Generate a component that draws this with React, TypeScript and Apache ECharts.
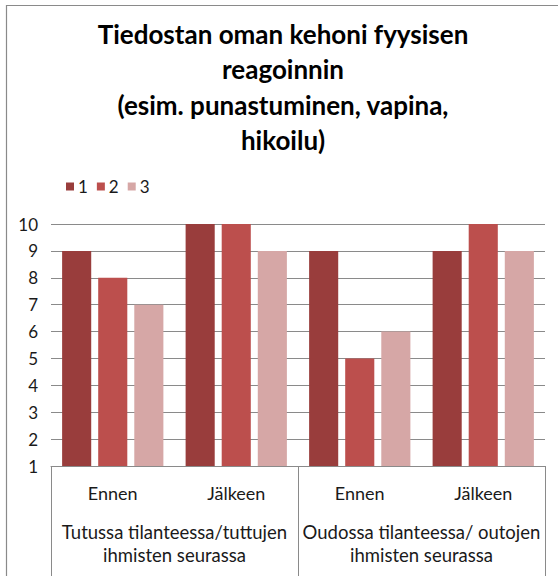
import React, { useEffect, useRef } from "react";
import * as echarts from "echarts";

const titleLines = [
  "Tiedostan oman kehoni fyysisen",
  "reagoinnin",
  "(esim. punastuminen, vapina,",
  "hikoilu)",
];
const innerCategories = ["Ennen", "Jälkeen", "Ennen", "Jälkeen"];
const outerCategories = [
  "Tutussa tilanteessa/tuttujen\nihmisten seurassa",
  "Oudossa tilanteessa/ outojen\nihmisten seurassa",
];
const seriesNames = ["1", "2", "3"];
const series1 = [9, 10, 9, 9];
const series2 = [8, 10, 5, 10];
const series3 = [7, 9, 6, 9];
const seriesColors = ["#993D3C", "#BC4F4D", "#D6A7A6"];

const FONT = "Lato, 'Liberation Sans', sans-serif";
const TEXT = "#1a1a1a";
const GRAY = "#8a8a8a";

export default function App() {
  const ref = useRef<HTMLDivElement>(null);
  useEffect(() => {
    if (!ref.current) return;
    const chart = echarts.init(ref.current, undefined, { renderer: "svg" });
    const values = [series1, series2, series3];
    chart.setOption({
      animation: false,
      textStyle: { fontFamily: FONT },
      graphic: [
        {
          type: "rect",
          shape: { x: 6.5, y: 5.5, width: 600, height: 620 },
          style: { fill: "none", stroke: GRAY, lineWidth: 1.2 },
          silent: true,
        },
        {
          type: "text",
          x: 283,
          y: 16,
          style: {
            text: titleLines.join("\n"),
            fontFamily: FONT,
            fontWeight: "bold",
            fontSize: 26,
            lineHeight: 35.5,
            fill: "#000",
            align: "center",
            verticalAlign: "top",
          },
        },
      ],
      legend: {
        left: 61,
        top: 173,
        itemWidth: 8,
        itemHeight: 8,
        itemGap: 9,
        icon: "rect",
        textStyle: { fontFamily: FONT, fontSize: 17, color: TEXT, padding: [0, 0, 0, -1] },
        data: seriesNames,
      },
      grid: { left: 51, right: 13, top: 224, bottom: 110, containLabel: false },
      xAxis: [
        {
          type: "category",
          data: innerCategories,
          position: "bottom",
          axisLine: { show: true, lineStyle: { color: GRAY, width: 1 } },
          axisTick: { show: false },
          axisLabel: { fontFamily: FONT, fontSize: 18, color: TEXT, margin: 18, interval: 0 },
        },
        {
          type: "category",
          data: outerCategories,
          position: "bottom",
          axisLine: { show: false },
          axisTick: { show: true, length: 120, lineStyle: { color: GRAY, width: 1 } },
          axisLabel: {
            fontFamily: FONT,
            fontSize: 18.5,
            lineHeight: 23.5,
            color: TEXT,
            margin: 54,
            interval: 0,
          },
        },
      ],
      yAxis: {
        type: "value",
        min: 1,
        max: 10,
        interval: 1,
        axisLine: { show: false },
        axisTick: { show: false },
        splitLine: { lineStyle: { color: GRAY, width: 1 } },
        axisLabel: { fontFamily: FONT, fontSize: 17, color: TEXT, margin: 13 },
      },
      series: seriesNames.map((name, i) => ({
        name,
        type: "bar",
        xAxisIndex: 0,
        data: values[i],
        barGap: "24%",
        barCategoryGap: "18%",
        itemStyle: { color: seriesColors[i] },
      })),
    });
    return () => chart.dispose();
  }, []);
  return (
    <div
      ref={ref}
      style={{ position: "fixed", left: 0, top: 0, width: 558, height: 576, background: "#fff" }}
    />
  );
}
